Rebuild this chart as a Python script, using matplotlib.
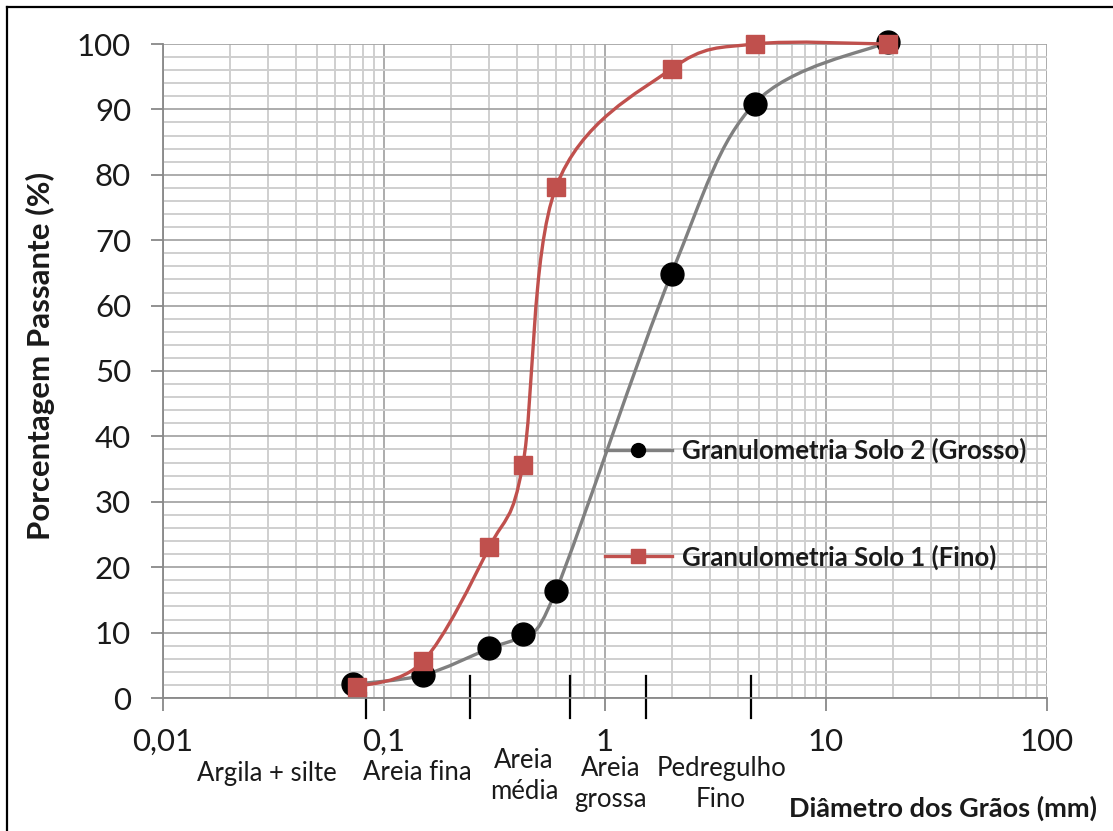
import numpy as np
import matplotlib
matplotlib.use("Agg")
import matplotlib.pyplot as plt
from matplotlib.path import Path
from matplotlib.patches import PathPatch
from matplotlib.lines import Line2D
from matplotlib.ticker import FixedLocator, FixedFormatter, NullFormatter
import matplotlib.transforms as mtransforms

plt.rcParams['font.family'] = ['Lato', 'DejaVu Sans']

# sieve openings (mm) and % passing
diam_grosso = [0.0725, 0.15, 0.30, 0.425, 0.60, 2.0, 4.75, 19.0]
pass_grosso = [2.1, 3.5, 7.6, 9.8, 16.4, 64.9, 90.9, 100.3]
diam_fino = [0.0755, 0.15, 0.30, 0.425, 0.60, 2.0, 4.75, 19.0]
pass_fino = [1.7, 5.6, 23.1, 35.7, 78.1, 96.2, 100.0, 100.0]

label_grosso = "Granulometria Solo 2 (Grosso)"
label_fino = "Granulometria Solo 1 (Fino)"

x_ticks = [0.01, 0.1, 1, 10, 100]
x_tick_labels = ["0,01", "0,1", "1", "10", "100"]
y_ticks = list(range(0, 101, 10))

# soil class limits marked under the axis (mm)
class_limits = [0.083, 0.245, 0.695, 1.53, 4.6]

GRAY = "#808080"
RED = "#C0504D"


def smooth_path(xs, ys):
    # Excel-like smoothed line: cubic bezier, control points from neighbours
    lx = np.log10(xs)
    pts = np.column_stack([lx, ys])
    n = len(pts)
    verts = [pts[0]]
    codes = [Path.MOVETO]
    for i in range(n - 1):
        p0 = pts[i - 1] if i > 0 else pts[i]
        p1 = pts[i]
        p2 = pts[i + 1]
        p3 = pts[i + 2] if i + 2 < n else pts[i + 1]
        c1 = p1 + (p2 - p0) / 6.0
        c2 = p2 - (p3 - p1) / 6.0
        verts += [c1, c2, p2]
        codes += [Path.CURVE4] * 3
    verts = np.array(verts)
    verts[:, 0] = 10 ** verts[:, 0]
    return Path(verts, codes)


fig = plt.figure(figsize=(11.13, 8.31), dpi=100)
ax = fig.add_axes([163 / 1113, 1 - 698 / 831, 884 / 1113, 654 / 831])
ax.set_xscale("log")
ax.set_xlim(0.01, 100)
ax.set_ylim(0, 100)

# grid
ax.xaxis.set_major_locator(FixedLocator(x_ticks))
ax.xaxis.set_major_formatter(FixedFormatter(x_tick_labels))
ax.xaxis.set_minor_locator(FixedLocator([m * d for d in [0.01, 0.1, 1, 10] for m in range(2, 10)]))
ax.xaxis.set_minor_formatter(NullFormatter())
ax.yaxis.set_major_locator(FixedLocator(y_ticks))
ax.yaxis.set_minor_locator(FixedLocator(list(range(0, 101, 2))))
ax.grid(which="major", color="#a6a6a6", lw=1.3)
ax.grid(which="minor", color="#cfcfcf", lw=1.4)
ax.set_axisbelow(True)

for s in ["top", "right"]:
    ax.spines[s].set_visible(False)
for s in ["left", "bottom"]:
    ax.spines[s].set_color("#888888")
    ax.spines[s].set_linewidth(1.3)

ax.tick_params(which="major", direction="out", length=9, width=1.3, color="#888888",
               labelsize=22.5, labelcolor="#1a1a1a")
ax.tick_params(axis="x", which="major", pad=12.5)
ax.tick_params(axis="y", which="major", pad=14)
ax.tick_params(which="minor", length=0)

# curves
ax.add_patch(PathPatch(smooth_path(diam_grosso, pass_grosso), fill=False,
                       edgecolor=GRAY, lw=2.4, zorder=3, clip_on=False))
ax.plot(diam_grosso, pass_grosso, ls="none", marker="o", ms=16.5, color="black",
        zorder=4, clip_on=False)
ax.add_patch(PathPatch(smooth_path(diam_fino, pass_fino), fill=False,
                       edgecolor=RED, lw=2.4, zorder=5, clip_on=False))
ax.plot(diam_fino, pass_fino, ls="none", marker="s", ms=12.5, color=RED,
        zorder=6, clip_on=False)

# legend
handles = [
    Line2D([], [], color=GRAY, lw=2.4, marker="o", ms=10, mfc="black", mec="black"),
    Line2D([], [], color=RED, lw=2.4, marker="s", ms=10, mfc=RED, mec=RED),
]
leg = ax.legend(handles, [label_grosso, label_fino], loc="upper left",
                bbox_to_anchor=(0.5, 0.3976), frameon=False, borderpad=0,
                borderaxespad=0, handlelength=2.6, handletextpad=0.4,
                labelspacing=3.15, prop={"weight": "bold", "size": 18.5})
for t in leg.get_texts():
    t.set_color("#1a1a1a")

# class limit marks under the axis
blend = mtransforms.blended_transform_factory(ax.transData, fig.transFigure)
for i, c in enumerate(class_limits):
    y0 = 1 - 693 / 831 if i == 0 else 1 - 676 / 831
    ax.add_line(Line2D([c, c], [y0, 1 - 718 / 831], transform=blend,
                       color="black", lw=1.6, clip_on=False))

# class names
cls_kw = dict(transform=blend, ha="center", va="center", fontsize=18.5,
              color="#1a1a1a", linespacing=1.3)
ax.text(0.0296, 1 - 773 / 831, "Argila + silte", **cls_kw)
ax.text(0.141, 1 - 773 / 831, "Areia fina", **cls_kw)
ax.text(0.43, 1 - 776 / 831, "Areia\nmédia", **cls_kw)
ax.text(1.06, 1 - 784 / 831, "Areia\ngrossa", **cls_kw)
ax.text(3.35, 1 - 784 / 831, "Pedregulho\nFino", **cls_kw)

fig.text(943 / 1113, 1 - 808 / 831, "Diâmetro dos Grãos (mm)", ha="center",
         va="center", fontsize=19.5, fontweight="bold", color="#1a1a1a")
fig.text(40 / 1113, 1 - 356 / 831, "Porcentagem Passante (%)", ha="center",
         va="center", rotation=90, fontsize=22.5, fontweight="bold", color="#1a1a1a")

# outer frame (top and left edges)
fig.add_artist(Line2D([7 / 1113, 1], [1 - 7 / 831, 1 - 7 / 831],
                      transform=fig.transFigure, color="black", lw=1.6))
fig.add_artist(Line2D([7 / 1113, 7 / 1113], [0, 1 - 7 / 831],
                      transform=fig.transFigure, color="black", lw=1.6))

fig.savefig("out.png", dpi=100)
